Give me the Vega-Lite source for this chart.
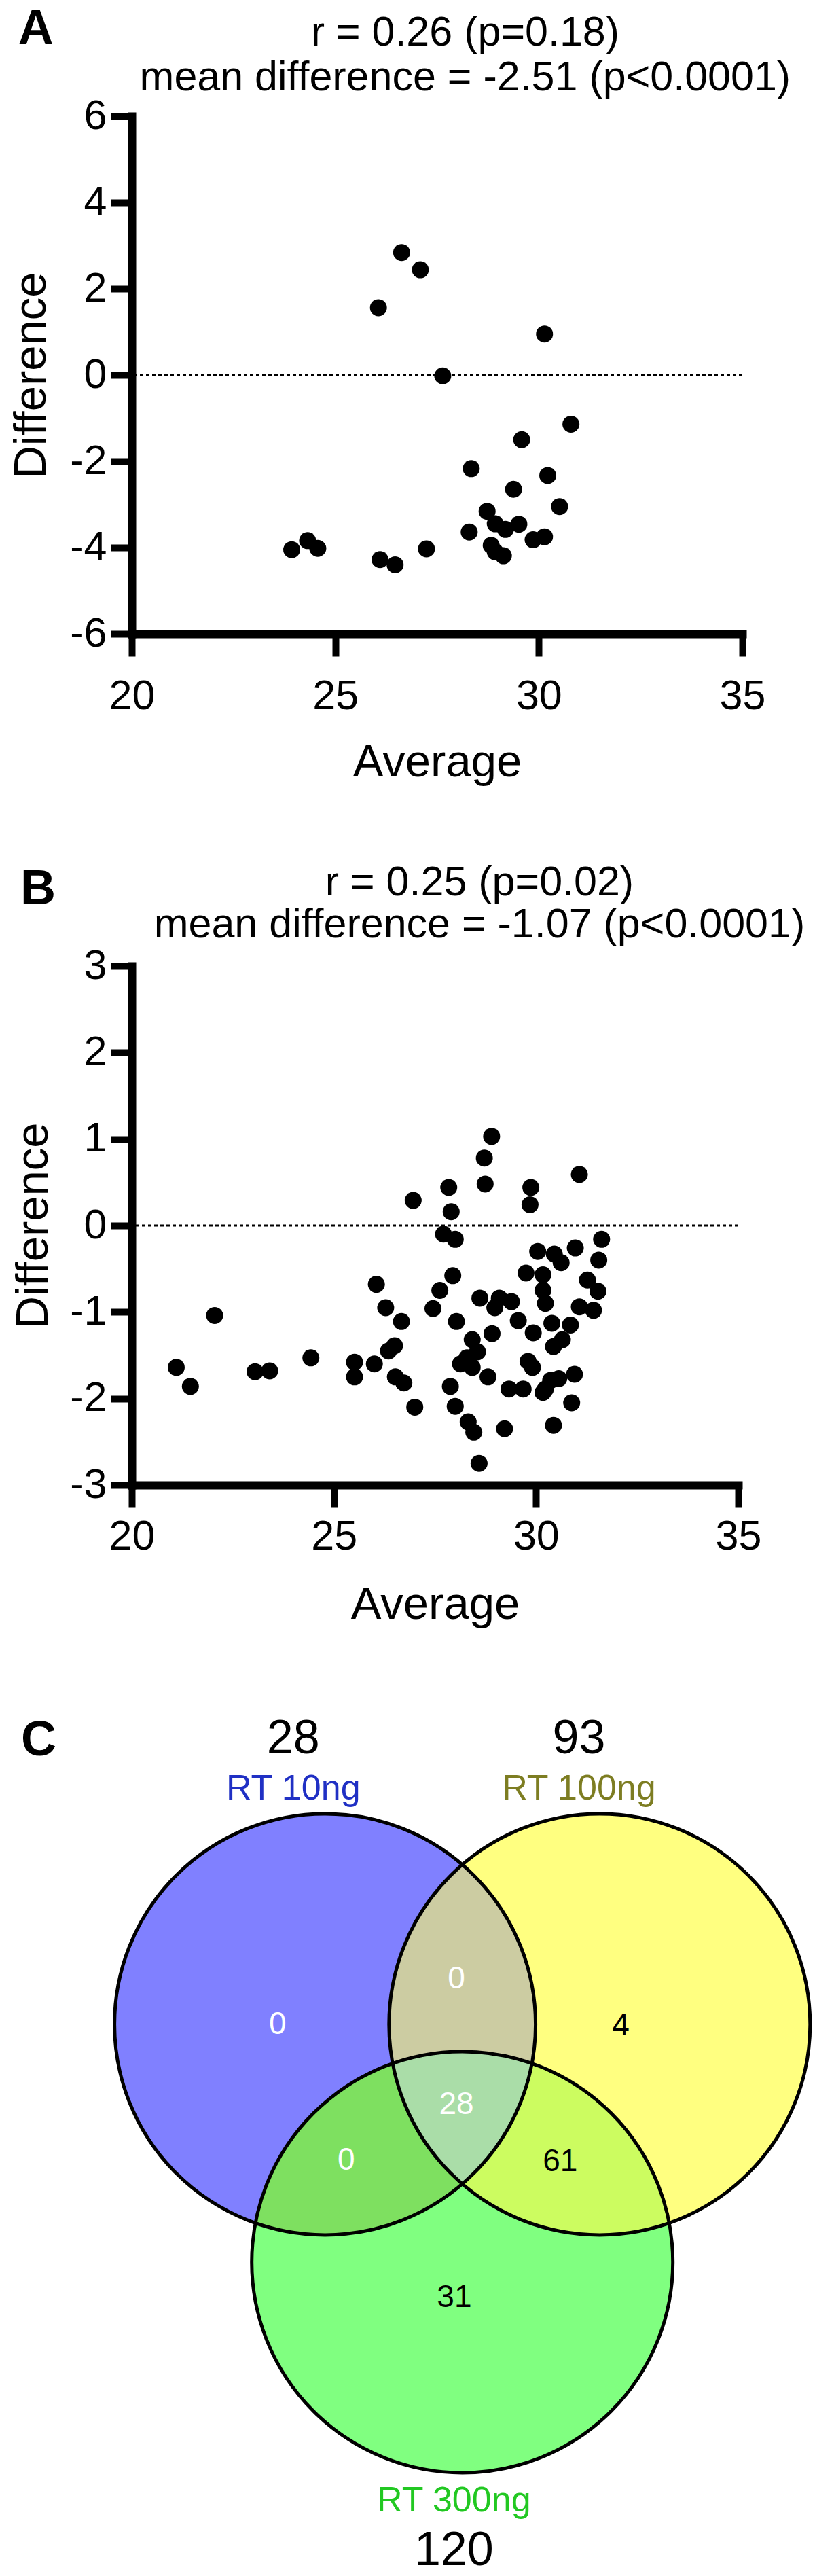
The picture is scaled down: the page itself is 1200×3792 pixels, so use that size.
{
  "$schema": "https://vega.github.io/schema/vega-lite/v6.json",
  "autosize": "none",
  "padding": {"left": 194, "top": 171, "right": 1006, "bottom": 3621},
  "background": "white",
  "bounds": "flush",
  "spacing": 489,
  "config": {
    "view": {"stroke": null},
    "font": "Liberation Sans",
    "locale": {"number": {"decimal": ".", "thousands": ",", "grouping": [3], "currency": ["$", ""], "minus": "-"}}
  },
  "datasets": {
    "panelA": [
      {"avg": 26.63, "diff": 2.84}, {"avg": 27.09, "diff": 2.44}, {"avg": 26.06, "diff": 1.56},
      {"avg": 30.14, "diff": 0.95}, {"avg": 27.64, "diff": -0.02}, {"avg": 30.79, "diff": -1.14},
      {"avg": 29.58, "diff": -1.5}, {"avg": 28.34, "diff": -2.17}, {"avg": 30.22, "diff": -2.33},
      {"avg": 29.38, "diff": -2.65}, {"avg": 30.51, "diff": -3.05}, {"avg": 28.73, "diff": -3.16},
      {"avg": 28.93, "diff": -3.45}, {"avg": 29.51, "diff": -3.46}, {"avg": 29.18, "diff": -3.58},
      {"avg": 28.29, "diff": -3.64}, {"avg": 29.86, "diff": -3.82}, {"avg": 30.14, "diff": -3.75},
      {"avg": 28.83, "diff": -3.95}, {"avg": 28.93, "diff": -4.1}, {"avg": 29.13, "diff": -4.19},
      {"avg": 23.93, "diff": -4.05}, {"avg": 24.32, "diff": -3.84}, {"avg": 24.57, "diff": -4.02},
      {"avg": 26.1, "diff": -4.28}, {"avg": 26.47, "diff": -4.4}, {"avg": 27.24, "diff": -4.03}
    ],
    "panelB": [
      {"avg": 28.9, "diff": 1.03}, {"avg": 28.72, "diff": 0.78}, {"avg": 28.74, "diff": 0.48},
      {"avg": 31.07, "diff": 0.59}, {"avg": 27.84, "diff": 0.44}, {"avg": 29.87, "diff": 0.44},
      {"avg": 26.96, "diff": 0.29}, {"avg": 29.85, "diff": 0.24}, {"avg": 27.9, "diff": 0.16},
      {"avg": 27.71, "diff": -0.1}, {"avg": 28.0, "diff": -0.16}, {"avg": 31.62, "diff": -0.16},
      {"avg": 30.04, "diff": -0.3}, {"avg": 30.97, "diff": -0.26}, {"avg": 30.45, "diff": -0.33},
      {"avg": 30.62, "diff": -0.43}, {"avg": 31.55, "diff": -0.4}, {"avg": 29.75, "diff": -0.55},
      {"avg": 30.17, "diff": -0.57}, {"avg": 27.94, "diff": -0.58}, {"avg": 31.27, "diff": -0.63},
      {"avg": 26.05, "diff": -0.68}, {"avg": 27.62, "diff": -0.75}, {"avg": 31.53, "diff": -0.76},
      {"avg": 30.17, "diff": -0.75}, {"avg": 28.61, "diff": -0.84}, {"avg": 29.09, "diff": -0.84},
      {"avg": 29.39, "diff": -0.88}, {"avg": 30.23, "diff": -0.9}, {"avg": 28.98, "diff": -0.95},
      {"avg": 26.28, "diff": -0.95}, {"avg": 27.45, "diff": -0.96}, {"avg": 31.07, "diff": -0.94},
      {"avg": 31.42, "diff": -0.98}, {"avg": 22.05, "diff": -1.04}, {"avg": 26.67, "diff": -1.11},
      {"avg": 28.03, "diff": -1.11}, {"avg": 28.91, "diff": -1.25}, {"avg": 29.56, "diff": -1.1},
      {"avg": 29.93, "diff": -1.24}, {"avg": 30.39, "diff": -1.13}, {"avg": 30.85, "diff": -1.15},
      {"avg": 30.65, "diff": -1.32}, {"avg": 30.43, "diff": -1.4}, {"avg": 28.42, "diff": -1.32},
      {"avg": 26.5, "diff": -1.39}, {"avg": 26.35, "diff": -1.45}, {"avg": 28.55, "diff": -1.46},
      {"avg": 24.43, "diff": -1.53}, {"avg": 28.29, "diff": -1.53}, {"avg": 25.51, "diff": -1.58},
      {"avg": 26.0, "diff": -1.6}, {"avg": 28.13, "diff": -1.6}, {"avg": 29.8, "diff": -1.57},
      {"avg": 29.91, "diff": -1.64}, {"avg": 21.1, "diff": -1.64}, {"avg": 28.42, "diff": -1.64},
      {"avg": 23.05, "diff": -1.69}, {"avg": 23.41, "diff": -1.68}, {"avg": 30.95, "diff": -1.72},
      {"avg": 28.81, "diff": -1.75}, {"avg": 26.52, "diff": -1.75}, {"avg": 25.51, "diff": -1.75},
      {"avg": 30.56, "diff": -1.77}, {"avg": 30.36, "diff": -1.79}, {"avg": 26.73, "diff": -1.82},
      {"avg": 21.45, "diff": -1.86}, {"avg": 27.88, "diff": -1.86}, {"avg": 29.33, "diff": -1.89},
      {"avg": 29.68, "diff": -1.89}, {"avg": 30.23, "diff": -1.89}, {"avg": 30.17, "diff": -1.93},
      {"avg": 28.0, "diff": -2.09}, {"avg": 27.0, "diff": -2.1}, {"avg": 30.88, "diff": -2.05},
      {"avg": 28.32, "diff": -2.27}, {"avg": 30.43, "diff": -2.31}, {"avg": 29.22, "diff": -2.35},
      {"avg": 28.46, "diff": -2.39}, {"avg": 28.59, "diff": -2.75}
    ],
    "sets": [
      {"set": "RT 10ng", "total": 28, "cx": -0.652, "cy": 0.3765, "lx": -0.803, "ly": 1.444, "ty": 1.662},
      {"set": "RT 100ng", "total": 93, "cx": 0.652, "cy": 0.3765, "lx": 0.554, "ly": 1.444, "ty": 1.662},
      {"set": "RT 300ng", "total": 120, "cx": 0.0, "cy": -0.753, "lx": -0.04, "ly": -1.938, "ty": -2.19}
    ],
    "regions": [
      {"region": "RT 10ng only", "n": 0, "x": -0.877, "y": 0.33},
      {"region": "RT 10ng & RT 100ng", "n": 0, "x": -0.028, "y": 0.546},
      {"region": "RT 100ng only", "n": 4, "x": 0.753, "y": 0.324},
      {"region": "all three", "n": 28, "x": -0.028, "y": -0.051},
      {"region": "RT 10ng & RT 300ng", "n": 0, "x": -0.551, "y": -0.315},
      {"region": "RT 100ng & RT 300ng", "n": 61, "x": 0.465, "y": -0.322},
      {"region": "RT 300ng only", "n": 31, "x": -0.038, "y": -0.967}
    ],
    "one": [{}]
  },
  "vconcat": [
    {
      "width": 899,
      "height": 762,
      "layer": [
        {
          "data": {"name": "one"},
          "mark": {"type": "rule", "strokeDash": [5, 4], "strokeWidth": 3, "color": "black"},
          "encoding": {
            "y": {"datum": 0, "type": "quantitative", "title": "Difference", "scale": {"domain": [-6, 6], "nice": false, "zero": false}}
          }
        },
        {
          "data": {"name": "panelA"},
          "mark": {"type": "point", "filled": true, "size": 625, "color": "black", "opacity": 1, "strokeWidth": 0},
          "encoding": {
            "x": {"field": "avg", "type": "quantitative", "title": "Average",
                  "scale": {"domain": [20, 35], "nice": false, "zero": false},
                  "axis": {"values": [20, 25, 30, 35], "format": "d", "grid": false,
                           "domainColor": "black", "domainWidth": 12, "domainCap": "square",
                           "tickColor": "black", "tickWidth": 10, "tickSize": 33,
                           "labelFont": "Liberation Sans", "labelFontSize": 61, "labelColor": "black", "labelPadding": 29,
                           "labelFlush": false, "labelOverlap": false,
                           "titleFont": "Liberation Sans", "titleFontSize": 67, "titleFontWeight": "normal", "titleColor": "black",
                           "titleBaseline": "alphabetic", "titlePadding": 87}},
            "y": {"field": "diff", "type": "quantitative", "title": "Difference",
                  "scale": {"domain": [-6, 6], "nice": false, "zero": false},
                  "axis": {"values": [-6, -4, -2, 0, 2, 4, 6], "format": "d", "grid": false,
                           "domainColor": "black", "domainWidth": 12, "domainCap": "square",
                           "tickColor": "black", "tickWidth": 10, "tickSize": 31,
                           "labelFont": "Liberation Sans", "labelFontSize": 61, "labelColor": "black", "labelPadding": 6,
                           "labelFlush": false, "labelOverlap": false,
                           "titleFont": "Liberation Sans", "titleFontSize": 67, "titleFontWeight": "normal", "titleColor": "black",
                           "titleBaseline": "alphabetic", "titlePadding": 36}}
          }
        },
        {
          "data": {"name": "one"},
          "mark": {"type": "text", "text": ["r = 0.26 (p=0.18)", "mean difference = -2.51 (p<0.0001)"],
                   "font": "Liberation Sans", "fontSize": 61, "lineHeight": 66, "align": "center", "baseline": "alphabetic", "color": "black"},
          "encoding": {
            "x": {"datum": 28.19, "type": "quantitative", "title": "Average"},
            "y": {"datum": 7.64, "type": "quantitative", "title": "Difference"}
          }
        },
        {
          "data": {"name": "one"},
          "mark": {"type": "text", "text": "A", "font": "Liberation Sans", "fontSize": 72, "fontWeight": "bold",
                   "align": "left", "baseline": "alphabetic", "color": "black"},
          "encoding": {
            "x": {"datum": 17.21, "type": "quantitative", "title": "Average"},
            "y": {"datum": 7.67, "type": "quantitative", "title": "Difference"}
          }
        }
      ]
    },
    {
      "width": 893,
      "height": 764,
      "layer": [
        {
          "data": {"name": "one"},
          "mark": {"type": "rule", "strokeDash": [5, 4], "strokeWidth": 3, "color": "black"},
          "encoding": {
            "y": {"datum": 0, "type": "quantitative", "title": "Difference", "scale": {"domain": [-3, 3], "nice": false, "zero": false}}
          }
        },
        {
          "data": {"name": "panelB"},
          "mark": {"type": "point", "filled": true, "size": 625, "color": "black", "opacity": 1, "strokeWidth": 0},
          "encoding": {
            "x": {"field": "avg", "type": "quantitative", "title": "Average",
                  "scale": {"domain": [20, 35], "nice": false, "zero": false},
                  "axis": {"values": [20, 25, 30, 35], "format": "d", "grid": false,
                           "domainColor": "black", "domainWidth": 12, "domainCap": "square",
                           "tickColor": "black", "tickWidth": 10, "tickSize": 33,
                           "labelFont": "Liberation Sans", "labelFontSize": 61, "labelColor": "black", "labelPadding": 13,
                           "labelFlush": false, "labelOverlap": false,
                           "titleFont": "Liberation Sans", "titleFontSize": 67, "titleFontWeight": "normal", "titleColor": "black",
                           "titleBaseline": "alphabetic", "titlePadding": 90}},
            "y": {"field": "diff", "type": "quantitative", "title": "Difference",
                  "scale": {"domain": [-3, 3], "nice": false, "zero": false},
                  "axis": {"values": [-3, -2, -1, 0, 1, 2, 3], "format": "d", "grid": false,
                           "domainColor": "black", "domainWidth": 12, "domainCap": "square",
                           "tickColor": "black", "tickWidth": 10, "tickSize": 31,
                           "labelFont": "Liberation Sans", "labelFontSize": 61, "labelColor": "black", "labelPadding": 6,
                           "labelFlush": false, "labelOverlap": false,
                           "titleFont": "Liberation Sans", "titleFontSize": 67, "titleFontWeight": "normal", "titleColor": "black",
                           "titleBaseline": "alphabetic", "titlePadding": 33}}
          }
        },
        {
          "data": {"name": "one"},
          "mark": {"type": "text", "text": ["r = 0.25 (p=0.02)", "mean difference = -1.07 (p<0.0001)"],
                   "font": "Liberation Sans", "fontSize": 61, "lineHeight": 62, "align": "center", "baseline": "alphabetic", "color": "black"},
          "encoding": {
            "x": {"datum": 28.6, "type": "quantitative", "title": "Average"},
            "y": {"datum": 3.817, "type": "quantitative", "title": "Difference"}
          }
        },
        {
          "data": {"name": "one"},
          "mark": {"type": "text", "text": "B", "font": "Liberation Sans", "fontSize": 72, "fontWeight": "bold",
                   "align": "left", "baseline": "alphabetic", "color": "black"},
          "encoding": {
            "x": {"datum": 17.245, "type": "quantitative", "title": "Average"},
            "y": {"datum": 3.715, "type": "quantitative", "title": "Difference"}
          }
        }
      ]
    },
    {
      "width": 992,
      "height": 992,
      "resolve": {"scale": {"color": "independent"}},
      "layer": [
        {
          "data": {"name": "sets"},
          "mark": {"type": "point", "shape": "circle", "filled": true, "size": 384400, "opacity": 1, "strokeWidth": 0},
          "encoding": {
            "x": {"field": "cx", "type": "quantitative", "scale": {"domain": [-1.57, 1.63], "nice": false, "zero": false}, "axis": null},
            "y": {"field": "cy", "type": "quantitative", "scale": {"domain": [-1.84, 1.36], "nice": false, "zero": false}, "axis": null},
            "color": {"field": "set", "type": "nominal", "legend": null,
                      "scale": {"domain": ["RT 10ng", "RT 100ng", "RT 300ng"], "range": ["#8080FF", "#FFFF80", "#80FF80"]}}
          }
        },
        {
          "data": {"name": "one"},
          "mark": {"type": "point", "shape": "M0,-0.7582A1,1,0,0,1,0,0.7582A1,1,0,0,1,0,-0.7582Z",
                   "angle": 0, "filled": true, "size": 384400, "fill": "#CCCCA2", "opacity": 1, "strokeWidth": 0},
          "encoding": {
            "x": {"datum": 0, "type": "quantitative", "scale": {"domain": [-1.57, 1.63], "nice": false, "zero": false}, "axis": null},
            "y": {"datum": 0.3765, "type": "quantitative", "scale": {"domain": [-1.84, 1.36], "nice": false, "zero": false}, "axis": null}
          }
        },
        {
          "data": {"name": "one"},
          "mark": {"type": "point", "shape": "M0,-0.7582A1,1,0,0,1,0,0.7582A1,1,0,0,1,0,-0.7582Z",
                   "angle": 60, "filled": true, "size": 384400, "fill": "#7EE060", "opacity": 1, "strokeWidth": 0},
          "encoding": {
            "x": {"datum": -0.326, "type": "quantitative", "scale": {"domain": [-1.57, 1.63], "nice": false, "zero": false}, "axis": null},
            "y": {"datum": -0.18825, "type": "quantitative", "scale": {"domain": [-1.84, 1.36], "nice": false, "zero": false}, "axis": null}
          }
        },
        {
          "data": {"name": "one"},
          "mark": {"type": "point", "shape": "M0,-0.7582A1,1,0,0,1,0,0.7582A1,1,0,0,1,0,-0.7582Z",
                   "angle": 120, "filled": true, "size": 384400, "fill": "#CCFC60", "opacity": 1, "strokeWidth": 0},
          "encoding": {
            "x": {"datum": 0.326, "type": "quantitative", "scale": {"domain": [-1.57, 1.63], "nice": false, "zero": false}, "axis": null},
            "y": {"datum": -0.18825, "type": "quantitative", "scale": {"domain": [-1.84, 1.36], "nice": false, "zero": false}, "axis": null}
          }
        },
        {
          "data": {"name": "one"},
          "mark": {"type": "point", "shape": "M0,0.3817A1,1,0,0,1,-0.3306,-0.1909A1,1,0,0,1,0.3306,-0.1909A1,1,0,0,1,0,0.3817Z",
                   "angle": 0, "filled": true, "size": 384400, "fill": "#AADDA8", "opacity": 1, "strokeWidth": 0},
          "encoding": {
            "x": {"datum": 0, "type": "quantitative", "scale": {"domain": [-1.57, 1.63], "nice": false, "zero": false}, "axis": null},
            "y": {"datum": 0, "type": "quantitative", "scale": {"domain": [-1.84, 1.36], "nice": false, "zero": false}, "axis": null}
          }
        },
        {
          "data": {"name": "sets"},
          "mark": {"type": "point", "shape": "circle", "filled": false, "size": 384400, "opacity": 1, "stroke": "black", "strokeWidth": 5},
          "encoding": {
            "x": {"field": "cx", "type": "quantitative", "scale": {"domain": [-1.57, 1.63], "nice": false, "zero": false}, "axis": null},
            "y": {"field": "cy", "type": "quantitative", "scale": {"domain": [-1.84, 1.36], "nice": false, "zero": false}, "axis": null}
          }
        },
        {
          "data": {"name": "regions"},
          "mark": {"type": "text", "font": "Liberation Sans", "fontSize": 46, "align": "center", "baseline": "alphabetic"},
          "encoding": {
            "x": {"field": "x", "type": "quantitative", "scale": {"domain": [-1.57, 1.63], "nice": false, "zero": false}, "axis": null},
            "y": {"field": "y", "type": "quantitative", "scale": {"domain": [-1.84, 1.36], "nice": false, "zero": false}, "axis": null},
            "text": {"field": "n", "type": "quantitative"},
            "color": {"field": "region", "type": "nominal", "legend": null,
                      "scale": {"domain": ["RT 10ng only", "RT 10ng & RT 100ng", "RT 100ng only", "all three", "RT 10ng & RT 300ng", "RT 100ng & RT 300ng", "RT 300ng only"],
                                "range": ["#ffffff", "#ffffff", "#000000", "#ffffff", "#ffffff", "#000000", "#000000"]}}
          }
        },
        {
          "data": {"name": "sets"},
          "mark": {"type": "text", "font": "Liberation Sans", "fontSize": 52, "align": "center", "baseline": "alphabetic"},
          "encoding": {
            "x": {"field": "lx", "type": "quantitative", "scale": {"domain": [-1.57, 1.63], "nice": false, "zero": false}, "axis": null},
            "y": {"field": "ly", "type": "quantitative", "scale": {"domain": [-1.84, 1.36], "nice": false, "zero": false}, "axis": null},
            "text": {"field": "set", "type": "nominal"},
            "color": {"field": "set", "type": "nominal", "legend": null,
                      "scale": {"domain": ["RT 10ng", "RT 100ng", "RT 300ng"], "range": ["#2030C4", "#7D7D22", "#22C822"]}}
          }
        },
        {
          "data": {"name": "sets"},
          "mark": {"type": "text", "font": "Liberation Sans", "fontSize": 70, "align": "center", "baseline": "alphabetic", "color": "black"},
          "encoding": {
            "x": {"field": "lx", "type": "quantitative", "scale": {"domain": [-1.57, 1.63], "nice": false, "zero": false}, "axis": null},
            "y": {"field": "ty", "type": "quantitative", "scale": {"domain": [-1.84, 1.36], "nice": false, "zero": false}, "axis": null},
            "text": {"field": "total", "type": "quantitative"}
          }
        },
        {
          "data": {"name": "one"},
          "mark": {"type": "text", "text": "C", "font": "Liberation Sans", "fontSize": 72, "fontWeight": "bold",
                   "align": "left", "baseline": "alphabetic", "color": "black"},
          "encoding": {
            "x": {"datum": -2.096, "type": "quantitative", "scale": {"domain": [-1.57, 1.63], "nice": false, "zero": false}, "axis": null},
            "y": {"datum": 1.653, "type": "quantitative", "scale": {"domain": [-1.84, 1.36], "nice": false, "zero": false}, "axis": null}
          }
        }
      ]
    }
  ]
}
